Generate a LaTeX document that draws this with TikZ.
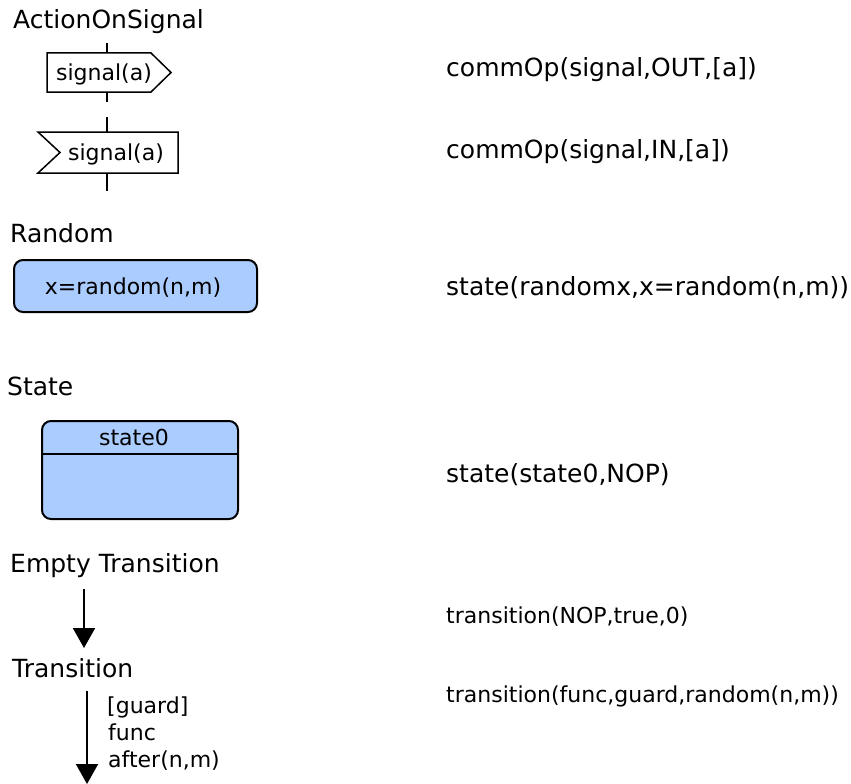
\documentclass[tikz,border=0pt]{standalone}
\usepackage{fontspec}
\setmainfont{DejaVu Sans}
\usetikzlibrary{arrows.meta}
\definecolor{boxblue}{RGB}{170,204,255}
\begin{document}
\begin{tikzpicture}[x=1pt,y=-1pt,
  title/.style={anchor=base west,inner sep=0pt,font=\fontsize{25}{30}\selectfont},
  code/.style={anchor=base west,inner sep=0pt,font=\fontsize{25}{30}\selectfont},
  tcode/.style={anchor=base west,inner sep=0pt,font=\fontsize{22}{27}\selectfont},
  boxtext/.style={anchor=base,inner sep=0pt,font=\fontsize{22}{27}\selectfont},
  lbl/.style={anchor=base west,inner sep=0pt,font=\fontsize{22}{27}\selectfont},
  sig/.style={draw=black,line width=1.5pt,fill=white,line join=miter},
  tick/.style={draw=black,line width=1.5pt},
  bluebox/.style={draw=black,line width=2pt,fill=boxblue,rounded corners=9pt},
  trans/.style={draw=black,line width=2pt,-{Triangle[width=22pt,length=20pt]}}
]
\useasboundingbox (0,0) rectangle (851,784);

% ActionOnSignal
\node[title] (tAction) at (13,29) {ActionOnSignal};
\coordinate (o1) at (107,43);
\coordinate (o2) at (107,53);
\coordinate (o3) at (107,92);
\coordinate (o4) at (107,102);
\draw[tick] (o1) -- (o2);
\draw[tick] (o3) -- (o4);
\draw[sig] (47,53) -- (151,53) -- (171,72.5) -- (151,92) -- (47,92) -- cycle;
\node[boxtext] (sigout) at (104,80.5) {signal(a)};

\coordinate (i1) at (107,117);
\coordinate (i2) at (107,132);
\coordinate (i3) at (107,173);
\coordinate (i4) at (107,191);
\draw[tick] (i1) -- (i2);
\draw[tick] (i3) -- (i4);
\draw[sig] (38,132) -- (178,132) -- (178,173) -- (38,173) -- (60,152.5) -- cycle;
\node[boxtext] (sigin) at (116,160) {signal(a)};

\node[code] (cOut) at (446,77) {commOp(signal,OUT,[a])};
\node[code] (cIn) at (446,158) {commOp(signal,IN,[a])};

% Random
\node[title] (tRandom) at (10,242) {Random};
\draw[bluebox] (14,260) rectangle (257,312);
\node[boxtext] (rtext) at (133,294) {x=random(n,m)};
\node[code] (cRandom) at (446,295) {state(randomx,x=random(n,m))};

% State
\node[title] (tState) at (7,395) {State};
\draw[bluebox] (42,421) rectangle (238,519);
\draw[line width=2pt] (42,454) -- (238,454);
\node[boxtext] (stext) at (134,445) {state0};
\node[code] (cState) at (446,482) {state(state0,NOP)};

% Empty Transition
\node[title] (tEmpty) at (10,572) {Empty Transition};
\coordinate (e1) at (84,589);
\coordinate (e2) at (84,648);
\draw[trans] (e1) -- (e2);
\node[tcode] (cEmpty) at (446,623) {transition(NOP,true,0)};

% Transition
\node[title] (tTrans) at (12,677) {Transition};
\coordinate (f1) at (87,691);
\coordinate (f2) at (87,784);
\draw[trans] (f1) -- (f2);
\node[lbl] (lguard) at (107,713) {[guard]};
\node[lbl] (lfunc) at (108,740) {func};
\node[lbl] (lafter) at (108,767) {after(n,m)};
\node[tcode] (cTrans) at (446,702) {transition(func,guard,random(n,m))};
\end{tikzpicture}
\end{document}
